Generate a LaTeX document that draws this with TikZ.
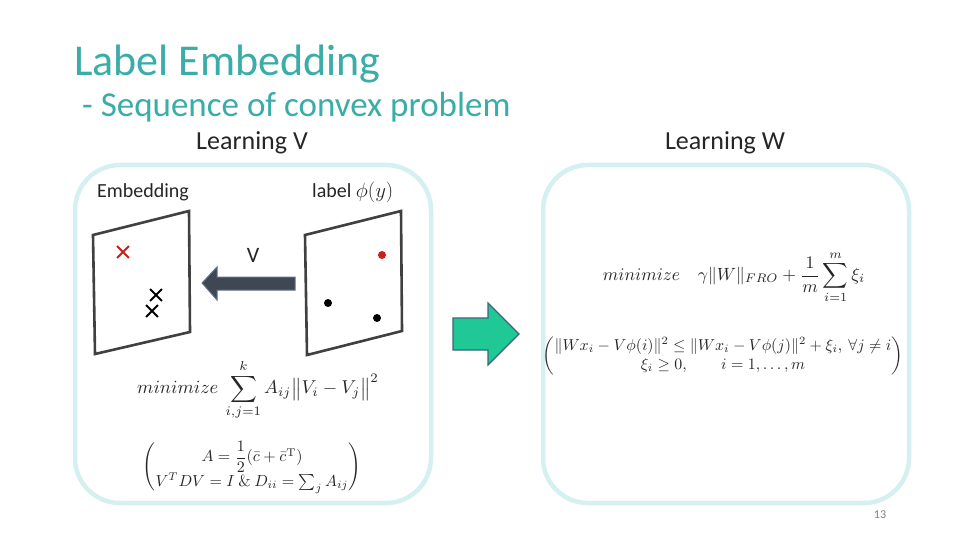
\documentclass[tikz,border=0pt]{standalone}
\usepackage{amsmath}
\usepackage[no-math]{fontspec}
\setmainfont{Carlito}
\usetikzlibrary{shapes.misc}
\definecolor{teal1}{RGB}{58,173,168}
\definecolor{boxc}{RGB}{213,240,240}
\definecolor{ink}{RGB}{38,38,38}
\definecolor{planec}{RGB}{64,64,64}
\definecolor{darrow}{RGB}{63,72,82}
\definecolor{darrowline}{RGB}{95,115,145}
\definecolor{garrow}{RGB}{32,200,150}
\definecolor{garrowline}{RGB}{60,100,125}
\definecolor{xred}{RGB}{205,30,30}
\definecolor{pgnum}{RGB}{128,128,128}
\tikzset{
  panel/.style={draw=boxc, line width=4.5pt, rounded corners=45pt, inner sep=0pt},
  planebox/.style={draw=planec, line width=2.6pt, line join=miter},
  crossmark/.style={cross out, draw=#1, line width=1.9pt, minimum size=10pt, inner sep=0pt},
  dotmark/.style={circle, fill=#1, minimum size=8pt, inner sep=0pt},
  txt/.style={inner sep=0pt, text=ink},
  mathtxt/.style={inner sep=0pt, text=ink, font=\fontsize{10}{12}\selectfont},
  blockdark/.style={fill=darrow, draw=darrowline, line width=1pt, line join=miter},
  blockgreen/.style={fill=garrow, draw=garrowline, line width=1.2pt, line join=miter},
}
\begin{document}
\begin{tikzpicture}[x=1pt,y=-1pt]
\useasboundingbox[fill=white] (0,0) rectangle (960,540);

% titles
\node[txt, anchor=base west, text=teal1, font=\fontsize{44}{50}\selectfont] (title) at (74,76) {Label Embedding};
\node[txt, anchor=base west, text=teal1, font=\fontsize{35}{40}\selectfont] (sub) at (82,117) {- Sequence of convex problem};
\node[txt, anchor=base, font=\fontsize{26}{30}\selectfont] (lv) at (252,150) {Learning V};
\node[txt, anchor=base, font=\fontsize{26}{30}\selectfont] (lw) at (725,150) {Learning W};

% panels
\node[panel, minimum width=356pt, minimum height=338pt] (lp) at (253,334) {};
\node[panel, minimum width=366pt, minimum height=338pt] (rp) at (726,334) {};

% labels in left panel
\node[txt, anchor=base west, font=\fontsize{20}{24}\selectfont] (emb) at (97,197) {Embedding};
\node[txt, anchor=base west, font=\fontsize{20}{24}\selectfont] (lab) at (312,197) {label $\phi(y)$};

% planes
\coordinate (e1) at (93,235);
\coordinate (e2) at (189,211);
\coordinate (e3) at (190,332);
\coordinate (e4) at (95,354);
\draw[planebox] (e1) -- (e2) -- (e3) -- (e4) -- cycle;
\coordinate (p1) at (305,235);
\coordinate (p2) at (401,211);
\coordinate (p3) at (402,331);
\coordinate (p4) at (307,355);
\draw[planebox] (p1) -- (p2) -- (p3) -- (p4) -- cycle;

% marks
\node[crossmark=xred] (x1) at (123,252) {};
\node[crossmark=black] (x2) at (156,295) {};
\node[crossmark=black] (x3) at (152,311) {};
\node[dotmark=xred] (d1) at (382,255) {};
\node[dotmark=black] (d2) at (328,303) {};
\node[dotmark=black] (d3) at (377,318) {};

% dark arrow V
\draw[blockdark] (202,283) -- (217,267) -- (217,277) -- (295,277) -- (295,290) -- (217,290) -- (217,300) -- cycle;
\node[txt, font=\fontsize{22}{26}\selectfont] (vlab) at (253,255) {V};

% green arrow
\draw[blockgreen] (453,318) -- (488,318) -- (488,303) -- (519,334) -- (488,365) -- (488,350) -- (453,350) -- cycle;

% formulas left
\node[mathtxt] (f1) at (258,390) {\scalebox{1.86}{$\displaystyle minimize\ \sum_{i,j=1}^{k} A_{ij}\bigl\|V_i - V_j\bigr\|^2$}};
\node[mathtxt] (c1) at (252,467) {\scalebox{1.6}{$\begin{pmatrix} A=\dfrac{1}{2}(\bar c+\bar c^{\mathrm{T}}) \\[1pt] V^{T}DV = I\ \&\ D_{ii}=\sum_j A_{ij}\end{pmatrix}$}};

% formulas right
\node[mathtxt] (f2) at (734,277) {\scalebox{1.77}{$\displaystyle minimize\quad \gamma\|W\|_{FRO}+\frac{1}{m}\sum_{i=1}^{m}\xi_i$}};
\node[mathtxt] (c2) at (723,356) {\scalebox{1.59}{$\begin{pmatrix} \|Wx_i - V\phi(i)\|^2 \le \|Wx_i - V\phi(j)\|^2+\xi_i,\ \forall j\neq i\\ \xi_i\ge 0,\qquad i=1,\ldots,m\end{pmatrix}$}};

% page number
\node[txt, text=pgnum, font=\fontsize{12}{14}\selectfont] (pn) at (880,515) {13};
\end{tikzpicture}
\end{document}
